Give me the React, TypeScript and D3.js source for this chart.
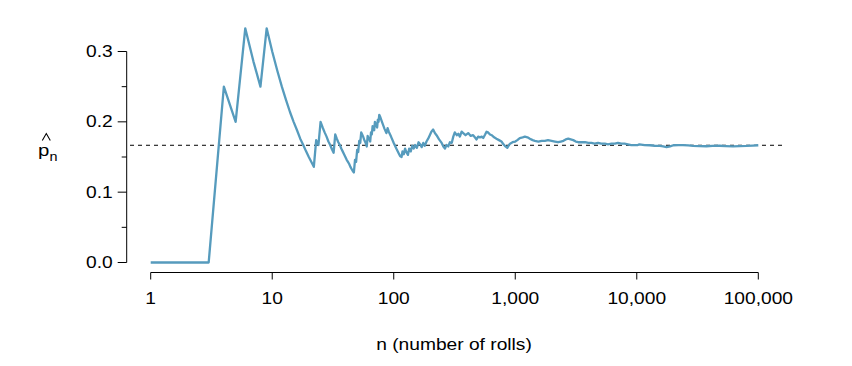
import React from "react";
import * as d3 from "d3";

// running proportion p̂_n: [n, p]
const points: [number, number][] = [
  [1, 0], [2, 0], [3, 0], [4, 0.25], [5, 0.2], [6, 0.333], [7, 0.286], [8, 0.25],
  [9, 0.333], [10, 0.3], [11, 0.273], [12, 0.25], [13, 0.231], [14, 0.214], [15, 0.2],
  [16, 0.188], [17, 0.176], [18, 0.167], [19, 0.158], [20, 0.15], [21, 0.143], [22, 0.136],
  [23, 0.174], [24, 0.167], [25, 0.2], [26, 0.192], [27, 0.185], [28, 0.179], [29, 0.172],
  [30, 0.167], [31, 0.161], [32, 0.156], [33, 0.182], [34, 0.176], [35, 0.171], [36, 0.167],
  [37, 0.162], [38, 0.158], [39, 0.154], [40, 0.15], [41, 0.146], [42, 0.143], [43, 0.14],
  [44, 0.136], [45, 0.133], [46, 0.13], [47, 0.128], [48, 0.146], [49, 0.143], [50, 0.16],
  [51, 0.157], [52, 0.173], [53, 0.17], [54, 0.185], [55, 0.182], [56, 0.179], [57, 0.175],
  [58, 0.172], [59, 0.169], [60, 0.165], [61, 0.18], [62, 0.177], [63, 0.175], [64, 0.172],
  [65, 0.185], [66, 0.182], [67, 0.194], [68, 0.191], [69, 0.188], [70, 0.2], [71, 0.197],
  [72, 0.194], [73, 0.192], [74, 0.203], [75, 0.2], [76, 0.21], [77, 0.208], [80, 0.2],
  [84, 0.19], [87, 0.184], [89, 0.191], [91, 0.186], [95, 0.179], [100, 0.17], [105, 0.162],
  [110, 0.155], [113, 0.151], [116, 0.15], [118, 0.158], [121, 0.154], [124, 0.162],
  [127, 0.157], [131, 0.153], [134, 0.162], [138, 0.158], [142, 0.166], [146, 0.162],
  [150, 0.167], [155, 0.163], [160, 0.171], [165, 0.168], [170, 0.164], [175, 0.17],
  [180, 0.166], [186, 0.172], [192, 0.176], [198, 0.181], [204, 0.186], [211, 0.189],
  [218, 0.184], [225, 0.181], [236, 0.175], [248, 0.17], [256, 0.165], [264, 0.162],
  [272, 0.167], [281, 0.165], [290, 0.171], [300, 0.17], [309, 0.179], [318, 0.185],
  [330, 0.181], [340, 0.183], [350, 0.179], [362, 0.186], [373, 0.184], [390, 0.181],
  [410, 0.184], [430, 0.18], [450, 0.181], [465, 0.178], [480, 0.175], [495, 0.179],
  [512, 0.178], [530, 0.179], [545, 0.177], [565, 0.182], [580, 0.186], [596, 0.185],
  [620, 0.182], [640, 0.181], [670, 0.178], [700, 0.176], [735, 0.174], [770, 0.172],
  [800, 0.168], [830, 0.165], [860, 0.163], [880, 0.166], [905, 0.169], [950, 0.171],
  [1000, 0.172], [1040, 0.174], [1090, 0.177], [1150, 0.178], [1200, 0.179], [1260, 0.178],
  [1320, 0.176], [1390, 0.174], [1450, 0.173], [1550, 0.172], [1650, 0.173], [1750, 0.173],
  [1860, 0.174], [1990, 0.173], [2120, 0.172], [2250, 0.171], [2370, 0.172], [2490, 0.173],
  [2600, 0.175], [2730, 0.176], [2860, 0.175], [3000, 0.174], [3150, 0.172], [3300, 0.171],
  [3500, 0.171], [3750, 0.171], [4000, 0.17], [4230, 0.17], [4500, 0.169], [4800, 0.17],
  [5100, 0.169], [5460, 0.169], [5800, 0.168], [6200, 0.169], [6600, 0.169], [7000, 0.17],
  [7450, 0.169], [7930, 0.169], [8450, 0.168], [9000, 0.167], [9600, 0.167], [10200, 0.167],
  [10500, 0.168], [11600, 0.167], [12800, 0.1667], [14000, 0.166], [15500, 0.1657],
  [16500, 0.165], [17600, 0.164], [18800, 0.165], [20000, 0.1667], [22000, 0.1668],
  [24000, 0.167], [26500, 0.1664], [29000, 0.1657], [33000, 0.1655], [37400, 0.1653],
  [42000, 0.1657], [48000, 0.166], [54000, 0.1655], [62000, 0.165], [70000, 0.1654],
  [80000, 0.1657], [90000, 0.1662], [100000, 0.1667],
];

const xTicks = [1, 10, 100, 1000, 10000, 100000];
const xTickLabels = ["1", "10", "100", "1,000", "10,000", "100,000"];
const yTicks = [0, 0.1, 0.2, 0.3];
const yTickLabels = ["0.0", "0.1", "0.2", "0.3"];
const yMinorTicks = [0.05, 0.15, 0.25];
const trueP = 1 / 6;

const SX = 1.2;

function T(props: {
  x: number;
  y: number;
  size: number;
  anchor?: "start" | "middle" | "end";
  children: React.ReactNode;
}) {
  return (
    <text
      transform={`translate(${props.x},${props.y}) scale(${SX},1)`}
      textAnchor={props.anchor || "start"}
      fontSize={props.size}
      fill="#000"
    >
      {props.children}
    </text>
  );
}

export default function App() {
  const x = d3.scaleLog().domain([1, 100000]).range([150.7, 758.3]);
  const y = d3.scaleLinear().domain([0, 0.3]).range([262.5, 51.5]);
  const line = d3
    .line<[number, number]>()
    .x((d) => x(d[0]))
    .y((d) => y(d[1]));
  const font = "'Liberation Sans', Arial, Helvetica, sans-serif";
  const axisX = 126.7;
  const axisY = 272.5;
  return (
    <svg
      width={852}
      height={366}
      style={{ position: "absolute", left: 0, top: 0, background: "#fff" }}
      fontFamily={font}
    >
      {/* reference line */}
      <line
        x1={130}
        x2={783}
        y1={y(trueP)}
        y2={y(trueP)}
        stroke="#000"
        strokeWidth={1}
        strokeDasharray="4,4"
      />
      {/* data line */}
      <path
        d={line(points) || ""}
        fill="none"
        stroke="#569BBD"
        strokeWidth={2.3}
        strokeLinejoin="round"
      />
      {/* y axis */}
      <line x1={axisX} x2={axisX} y1={y(0)} y2={y(0.3)} stroke="#000" strokeWidth={1} />
      {yTicks.map((t, i) => (
        <g key={"yt" + i}>
          <line x1={axisX - 9} x2={axisX} y1={y(t)} y2={y(t)} stroke="#000" strokeWidth={1} />
          <T x={axisX - 14} y={y(t) + 5.5} size={16} anchor="end">
            {yTickLabels[i]}
          </T>
        </g>
      ))}
      {yMinorTicks.map((t, i) => (
        <line key={"ym" + i} x1={axisX - 5} x2={axisX} y1={y(t)} y2={y(t)} stroke="#000" strokeWidth={1} />
      ))}
      {/* x axis */}
      <line x1={x(1)} x2={x(100000)} y1={axisY} y2={axisY} stroke="#000" strokeWidth={1} />
      {xTicks.map((t, i) => (
        <g key={"xt" + i}>
          <line x1={x(t)} x2={x(t)} y1={axisY} y2={axisY + 7} stroke="#000" strokeWidth={1} />
          <T x={x(t)} y={304} size={16} anchor="middle">
            {xTickLabels[i]}
          </T>
        </g>
      ))}
      <T x={454} y={350} size={16} anchor="middle">
        n (number of rolls)
      </T>
      {/* y label p-hat sub n */}
      <T x={38} y={156} size={17}>
        p
      </T>
      <path d="M42.3,140.5 L46.3,133.5 L50.3,140.5" fill="none" stroke="#000" strokeWidth={1.1} />
      <T x={49.5} y={161} size={12}>
        n
      </T>
    </svg>
  );
}
